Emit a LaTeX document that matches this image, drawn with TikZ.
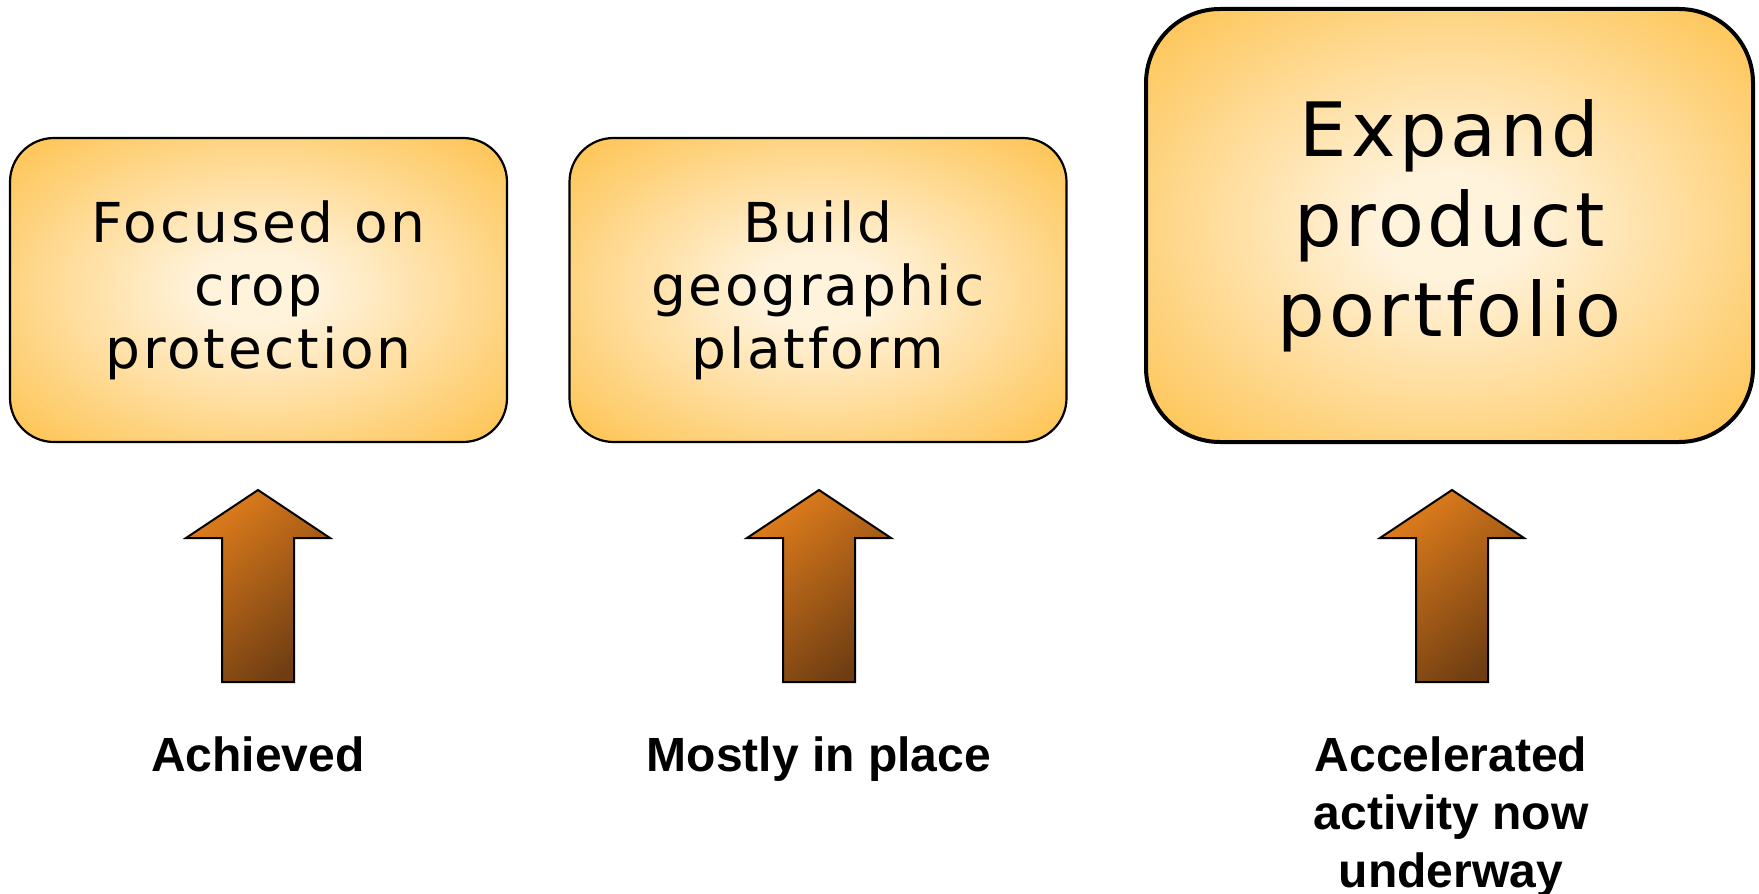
\documentclass[tikz,border=0pt]{standalone}
\usepackage{fontspec}
\setmainfont{Liberation Sans}
\newfontfamily\boxfont[LetterSpace=5]{DejaVu Sans}
\usetikzlibrary{positioning}

\definecolor{boxedge}{HTML}{FEBE42}
\definecolor{boxcore}{HTML}{FFF3DC}
\definecolor{arrowtop}{HTML}{DE7C1C}
\definecolor{arrowbot}{HTML}{6E3D12}
\pgfdeclareradialshading{boxglow}{\pgfpoint{0bp}{0bp}}{color(0bp)=(boxcore); color(6bp)=(boxcore); color(38bp)=(boxedge); color(50bp)=(boxedge)}

\tikzset{
  goal/.style={draw=black, line width=1.1pt, rounded corners=22pt, shading=boxglow,
    minimum width=248.5pt, minimum height=152pt, inner sep=0pt, outer sep=0pt,
    align=center, font=\boxfont\fontsize{27.5}{31.5}\selectfont},
  biggoal/.style={goal, line width=2pt, rounded corners=37pt,
    minimum width=303.5pt, minimum height=216.5pt, font=\boxfont\fontsize{37.5}{45}\selectfont},
  status/.style={anchor=north, align=center, inner sep=0pt,
    font=\bfseries\fontsize{24}{29}\selectfont},
  uparrow/.style={draw=black, line width=1pt, line join=miter,
    top color=arrowtop, bottom color=arrowbot, shading angle=40}
}

\begin{document}
\begin{tikzpicture}[x=0.5pt,y=-0.5pt]
  \useasboundingbox (0,0) rectangle (1759,893);

  % goals
  \node [goal] (crop) at (258.5,290) {Focused on\\crop\\protection};
  \node [goal] (geo) at (818,290) {Build\\geographic\\platform};
  \node [biggoal] (port) at (1449.5,225.5) {Expand\\product\\portfolio};

  % arrows
  \foreach \cx in {258,819,1452} {
    \draw [uparrow] (\cx,490) -- (\cx+72,538) -- (\cx+36,538) -- (\cx+36,682)
      -- (\cx-36,682) -- (\cx-36,538) -- (\cx-72,538) -- cycle;
  }

  % where things stand
  \node [status] (done) at (258,736) {Achieved};
  \node [status] (most) at (819,736) {Mostly in place};
  \node [status] (fast) at (1451,736) {Accelerated\\activity now\\underway};
\end{tikzpicture}
\end{document}
